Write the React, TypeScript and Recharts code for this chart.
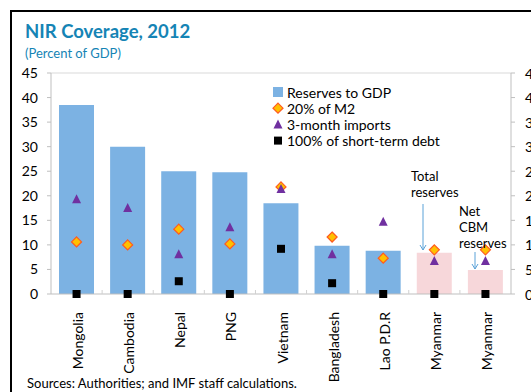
import { ComposedChart, Bar, Line, XAxis, YAxis, Cell, ReferenceLine } from "recharts";

// categories (ids keep the two Myanmar bars apart)
const countryIds = ["mng", "khm", "npl", "png", "vnm", "bgd", "lao", "mmrTotal", "mmrNet"];
const countryNames = ["Mongolia", "Cambodia", "Nepal", "PNG", "Vietnam", "Bangladesh", "Lao P.D.R", "Myanmar", "Myanmar"];

// series, percent of GDP
const reservesToGdp = [38.5, 30.0, 25.0, 24.8, 18.5, 9.8, 8.8, 8.4, 4.9];
const m2Share = [10.6, 10.0, 13.2, 10.2, 21.8, 11.6, 7.3, 9.0, 9.0];
const importsCover = [19.3, 17.5, 8.1, 13.6, 21.4, 8.1, 14.7, 6.7, 6.7];
const shortTermDebt = [0, 0, 2.6, 0, 9.2, 2.2, 0, 0, 0];
const isMyanmar = [false, false, false, false, false, false, false, true, true];

const yTicks = [0, 5, 10, 15, 20, 25, 30, 35, 40, 45];

const data = countryIds.map((id, i) => ({
  id,
  name: countryNames[i],
  reserves: reservesToGdp[i],
  m2: m2Share[i],
  imports: importsCover[i],
  debt: shortTermDebt[i],
}));

const FONT = "Lato, 'Open Sans', sans-serif";
const BLUE = "#7cb2e3";
const PINK = "#f7d7da";
const TEAL = "#1584b5";

// plot box (same numbers as the chart margins/axis widths below)
const PLOT_LEFT = 51;
const PLOT_RIGHT = 511;
const PLOT_BOTTOM = 294;

const Diamond = (p: any) => {
  if (p.cx == null || p.cy == null) return null;
  const r = 5;
  return (
    <path
      key={p.key}
      d={`M${p.cx},${p.cy - r}L${p.cx + r},${p.cy}L${p.cx},${p.cy + r}L${p.cx - r},${p.cy}Z`}
      fill="#ffc000"
      stroke="#ff5a1f"
      strokeWidth={1.2}
    />
  );
};

const Triangle = (p: any) => {
  if (p.cx == null || p.cy == null) return null;
  return (
    <path
      key={p.key}
      d={`M${p.cx},${p.cy - 5}L${p.cx + 4.5},${p.cy + 4}L${p.cx - 4.5},${p.cy + 4}Z`}
      fill="#7030a0"
    />
  );
};

const Square = (p: any) => {
  if (p.cx == null || p.cy == null) return null;
  return <rect key={p.key} x={p.cx - 4} y={p.cy - 4} width={8} height={8} fill="#000" />;
};

const CatTick = ({ x, y, index }: any) => (
  <text
    transform={`translate(${x + 1},${y + 10}) rotate(-90)`}
    textAnchor="end"
    dominantBaseline="central"
    fontSize={14}
    fontFamily={FONT}
    fill="#000"
  >
    {countryNames[index]}
  </text>
);

const RightTick = ({ x, y, payload }: any) => (
  <text x={x + 8} y={y} dominantBaseline="central" textAnchor="start" fontSize={14} fontFamily={FONT} fill="#000">
    {payload.value}
  </text>
);

const legendItems = [
  { label: "Reserves to GDP", kind: "bar" },
  { label: "20% of M2", kind: "diamond" },
  { label: "3-month imports", kind: "triangle" },
  { label: "100% of short-term debt", kind: "square" },
];

export default function App() {
  const band = (PLOT_RIGHT - PLOT_LEFT) / countryIds.length;
  return (
    <div style={{ position: "absolute", left: 0, top: 0, width: 531, height: 392, overflow: "hidden", background: "#fff", fontFamily: FONT }}>
      <div style={{ position: "absolute", left: 10, top: 10, width: 700, height: 600, borderLeft: "2px solid #000", borderTop: "2px solid #000" }} />
      <div style={{ position: "absolute", left: 25, top: 20, fontSize: 18.5, fontWeight: 700, color: TEAL, whiteSpace: "nowrap" }}>
        NIR Coverage, 2012
      </div>
      <div style={{ position: "absolute", left: 25, top: 45, fontSize: 13, color: TEAL, whiteSpace: "nowrap" }}>
        (Percent of GDP)
      </div>

      <div style={{ position: "absolute", left: 0, top: 0 }}>
        <ComposedChart
          width={561}
          height={392}
          data={data}
          margin={{ top: 73, right: 0, bottom: 0, left: 0 }}
          barCategoryGap={8}
        >
          <XAxis
            dataKey="id"
            interval={0}
            tick={<CatTick />}
            tickLine={false}
            axisLine={{ stroke: "#bfbfbf" }}
            height={98}
          />
          <YAxis
            yAxisId="left"
            domain={[0, 45]}
            ticks={yTicks}
            width={51}
            tickSize={4}
            tickMargin={9}
            axisLine={{ stroke: "#bfbfbf" }}
            tickLine={{ stroke: "#bfbfbf" }}
            tick={{ fontSize: 14, fill: "#000", fontFamily: FONT }}
          />
          <YAxis
            yAxisId="right"
            orientation="right"
            domain={[0, 45]}
            ticks={yTicks}
            width={50}
            tickSize={4}
            axisLine={{ stroke: "#bfbfbf" }}
            tickLine={{ stroke: "#bfbfbf" }}
            tick={<RightTick />}
          />
          <ReferenceLine yAxisId="left" y={45} stroke="#d9d9d9" />
          <Bar yAxisId="left" dataKey="reserves" isAnimationActive={false}>
            {data.map((d, i) => (
              <Cell key={d.id} fill={isMyanmar[i] ? PINK : BLUE} />
            ))}
          </Bar>
          <Line yAxisId="left" dataKey="m2" stroke="none" dot={Diamond} activeDot={false} isAnimationActive={false} />
          <Line yAxisId="left" dataKey="imports" stroke="none" dot={Triangle} activeDot={false} isAnimationActive={false} />
          <Line yAxisId="right" dataKey="debt" stroke="none" dot={Square} activeDot={false} isAnimationActive={false} />
        </ComposedChart>
      </div>

      <svg style={{ position: "absolute", left: 0, top: 0 }} width={531} height={392}>
        {/* category boundary ticks */}
        {countryIds.slice(1).map((id, i) => (
          <line
            key={id}
            x1={PLOT_LEFT + band * (i + 1)}
            x2={PLOT_LEFT + band * (i + 1)}
            y1={PLOT_BOTTOM - 4}
            y2={PLOT_BOTTOM}
            stroke="#d0d0d0"
          />
        ))}

        {/* legend */}
        {legendItems.map((it, i) => {
          const cy = 92 + i * 16.2;
          const cx = 278;
          let mark;
          if (it.kind === "bar") mark = <rect x={cx - 5} y={cy - 5} width={10} height={10} fill={BLUE} />;
          else if (it.kind === "diamond") mark = <Diamond cx={cx} cy={cy} />;
          else if (it.kind === "triangle") mark = <Triangle cx={cx} cy={cy} />;
          else mark = <Square cx={cx} cy={cy} />;
          return (
            <g key={it.label}>
              {mark}
              <text x={287} y={cy} dominantBaseline="central" fontSize={14} fontFamily={FONT} fill="#000">
                {it.label}
              </text>
            </g>
          );
        })}

        {/* annotations */}
        <text fontSize={13} fontFamily={FONT} fill="#000">
          <tspan x={411} y={181}>Total</tspan>
          <tspan x={411} y={197}>reserves</tspan>
        </text>
        <line x1={423} y1={204} x2={423} y2={250} stroke="#5aa2d8" strokeWidth={1} />
        <path d="M420,245 L423,250 L426,245" fill="none" stroke="#5aa2d8" strokeWidth={1} />
        <text fontSize={13} fontFamily={FONT} fill="#000">
          <tspan x={459} y={216}>Net</tspan>
          <tspan x={459} y={232}>CBM</tspan>
          <tspan x={459} y={248}>reserves</tspan>
        </text>
        <line x1={475} y1={252} x2={475} y2={269} stroke="#5aa2d8" strokeWidth={1} />
        <path d="M472,264 L475,269 L478,264" fill="none" stroke="#5aa2d8" strokeWidth={1} />

        <text x={27} y={388} fontSize={13} fontFamily={FONT} fill="#000">
          Sources: Authorities; and IMF staff calculations.
        </text>
      </svg>
    </div>
  );
}
